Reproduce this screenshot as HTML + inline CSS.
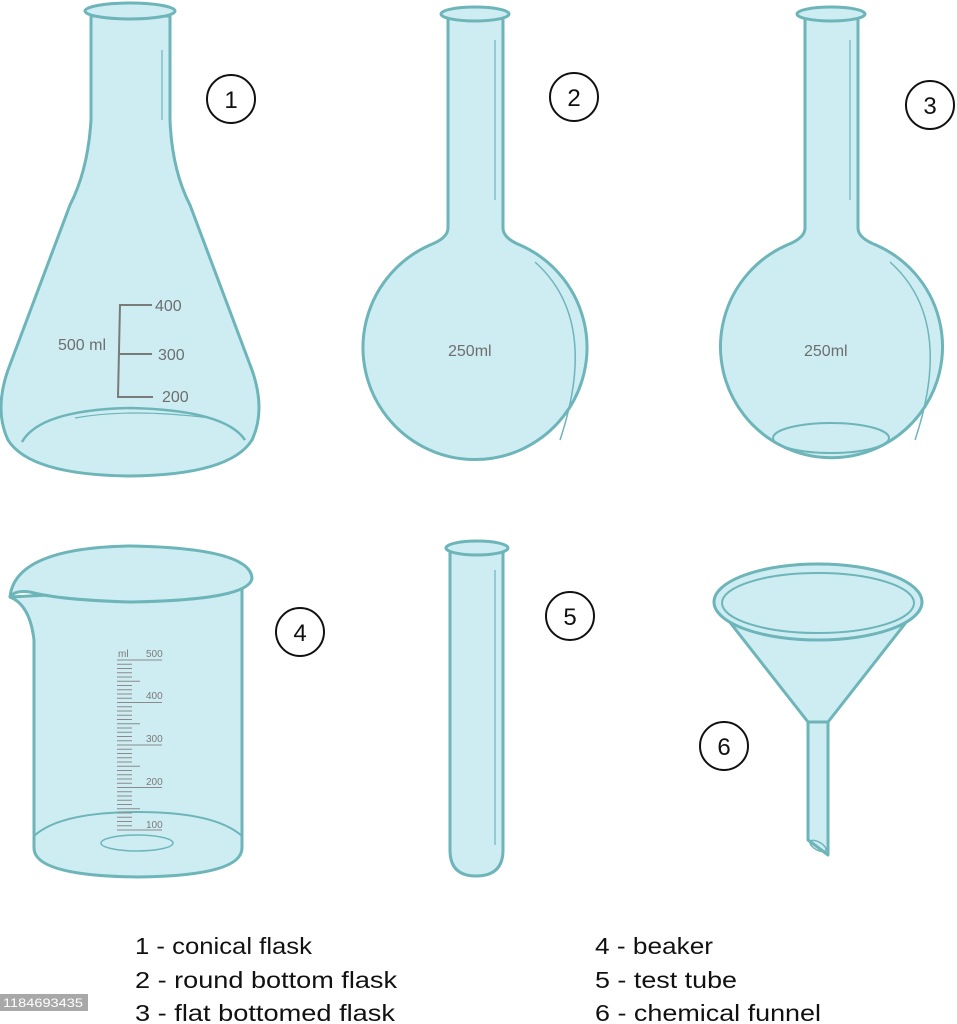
<!DOCTYPE html>
<html><head><meta charset="utf-8"><style>
html,body{margin:0;padding:0;background:#fff;}
svg{display:block;}
text{font-family:"Liberation Sans",sans-serif;}
</style></head><body>
<svg width="957" height="1024" viewBox="0 0 957 1024" xmlns="http://www.w3.org/2000/svg">
<g fill="#cdedf3" stroke="#6db5b9" stroke-width="3" stroke-linejoin="round">
  <!-- 1 conical flask -->
  <g>
    <path d="M91 16 L91 120 Q88 170 70 205 L8 370 Q-6 410 8 440 Q30 475 130 476 Q230 475 252 440 Q266 410 252 370 L190 205 Q172 170 170 120 L170 16 Z"/>
    <ellipse cx="130" cy="11" rx="45" ry="8"/>
    <path d="M22 442 Q40 410 130 408 Q225 410 245 440" fill="none" stroke-width="2.5"/>
    <path d="M75 418 Q130 408 210 418" fill="none" stroke-width="1.2"/>
    <path d="M162 50 L162 120" fill="none" stroke-width="1.2"/>
  </g>
  <!-- 2 round bottom flask -->
  <g>
    <path d="M448 18 L448 228 Q448 238 430 245 A112 112 0 1 0 520 245 Q503 238 503 228 L503 18 Z"/>
    <ellipse cx="475" cy="14" rx="34" ry="7"/>
    <path d="M535 262 Q600 320 560 440" fill="none" stroke-width="1.5"/>
    <path d="M495 40 L495 200" fill="none" stroke-width="1.2"/>
  </g>
  <!-- 3 flat bottomed flask -->
  <g>
    <path d="M805 18 L805 228 Q805 238 787 245 A111 111 0 1 0 876 245 Q858 238 858 228 L858 18 Z"/>
    <ellipse cx="831" cy="14" rx="34" ry="7"/>
    <ellipse cx="831" cy="438" rx="58" ry="15" fill="none" stroke-width="2"/>
    <path d="M890 262 Q955 320 915 440" fill="none" stroke-width="1.5"/>
    <path d="M850 40 L850 200" fill="none" stroke-width="1.2"/>
  </g>
  <!-- 4 beaker -->
  <g>
    <path d="M10 597 Q30 605 34 640 L34 848 Q34 876 138 877 Q242 876 242 848 L242 585 Z"/>
    <path d="M10 597 Q15 548 130 546 Q250 548 252 578 Q250 600 130 602 Q60 600 30 592 Q15 590 10 597 Z"/>
    <path d="M34 836 Q60 812 138 812 Q215 812 242 836" fill="none" stroke-width="2"/>
    <ellipse cx="137" cy="843" rx="36" ry="8" fill="none" stroke-width="1.5"/>
  </g>
  <!-- 5 test tube -->
  <g>
    <path d="M450 550 L450 850 Q450 876 476 876 Q503 876 503 850 L503 550 Z"/>
    <ellipse cx="477" cy="548" rx="31" ry="7"/>
    <path d="M495 570 L495 845" fill="none" stroke-width="1.2"/>
  </g>
  <!-- 6 funnel -->
  <g>
    <path d="M808 720 L808 840 L828 855 L828 720 Z"/>
    <path d="M714 602 L808 722 L828 722 L922 602 Z"/>
    <ellipse cx="818" cy="602" rx="104" ry="38"/>
    <ellipse cx="818" cy="603" rx="96" ry="30" fill="none" stroke-width="2"/>
    <ellipse cx="818" cy="846" rx="9" ry="4" fill="none" stroke-width="1.5" transform="rotate(30 818 846)"/>
  </g>
</g>
<!-- conical flask scale -->
<g stroke="#7a7a7a" stroke-width="2" fill="none">
  <path d="M152 305 L120 305 L118 397 L153 397 M118 354 L152 354"/>
</g>
<g fill="#6e6e6e" font-size="16">
  <text x="155" y="311">400</text><text x="158" y="360">300</text><text x="162" y="402">200</text>
  <text x="58" y="350">500 ml</text>
  <text x="448" y="356">250ml</text><text x="804" y="356">250ml</text>
</g>
<!-- beaker scale -->
<g id="bscale" stroke="#8a8a8a" stroke-width="1"></g>
<g fill="#7a7a7a" font-size="10">
  <text x="118" y="657">ml</text><text x="146" y="657">500</text><text x="146" y="699">400</text>
  <text x="146" y="742">300</text><text x="146" y="785">200</text><text x="146" y="828">100</text>
</g>
<!-- number badges -->
<g fill="none" stroke="#111" stroke-width="2">
  <circle cx="231" cy="99" r="24"/><circle cx="574" cy="97" r="24"/><circle cx="930" cy="105" r="24"/>
  <circle cx="300" cy="632" r="24"/><circle cx="570" cy="616" r="24"/><circle cx="724" cy="746" r="24"/>
</g>
<g fill="#111" font-size="24" text-anchor="middle">
  <text x="231" y="108">1</text><text x="574" y="106">2</text><text x="930" y="114">3</text>
  <text x="300" y="641">4</text><text x="570" y="625">5</text><text x="724" y="755">6</text>
</g>
<!-- legend -->
<g fill="#111" font-size="23">
  <text x="135" y="954" textLength="177" lengthAdjust="spacingAndGlyphs">1 - conical flask</text>
  <text x="135" y="988" textLength="262" lengthAdjust="spacingAndGlyphs">2 - round bottom flask</text>
  <text x="135" y="1021" textLength="260" lengthAdjust="spacingAndGlyphs">3 - flat bottomed flask</text>
  <text x="595" y="954" textLength="118" lengthAdjust="spacingAndGlyphs">4 - beaker</text>
  <text x="595" y="988" textLength="142" lengthAdjust="spacingAndGlyphs">5 - test tube</text>
  <text x="595" y="1021" textLength="226" lengthAdjust="spacingAndGlyphs">6 - chemical funnel</text>
</g>
<rect x="0" y="994" width="88" height="17" fill="#a8a8a8"/>
<text x="3" y="1007" font-size="12" fill="#fff" textLength="80" lengthAdjust="spacingAndGlyphs">1184693435</text>
</svg>
<script>
var g=document.getElementById('bscale');
for(var i=0;i<=40;i++){
  var y=660+i*4.25;
  var l=document.createElementNS('http://www.w3.org/2000/svg','line');
  
  
  l.setAttribute('x1',117);l.setAttribute('x2',i%10===0?162:(i%5===0?140:132));
  l.setAttribute('y1',y);l.setAttribute('y2',y);
  g.appendChild(l);
}
</script>
</body></html>
